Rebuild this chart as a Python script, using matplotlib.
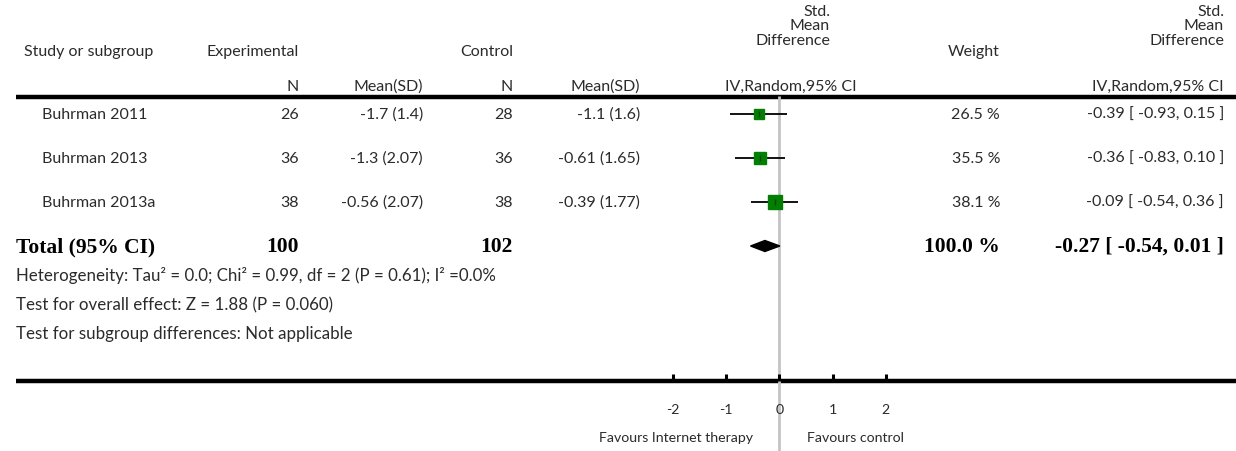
import matplotlib
matplotlib.use("Agg")
import matplotlib.pyplot as plt
from matplotlib.patches import Polygon

# ---- data ----
studies = ["Buhrman 2011", "Buhrman 2013", "Buhrman 2013a"]
exp_n = [26, 36, 38]
exp_meansd = ["-1.7 (1.4)", "-1.3 (2.07)", "-0.56 (2.07)"]
ctl_n = [28, 36, 38]
ctl_meansd = ["-1.1 (1.6)", "-0.61 (1.65)", "-0.39 (1.77)"]
smd = [-0.39, -0.36, -0.09]
ci_low = [-0.93, -0.83, -0.54]
ci_high = [0.15, 0.10, 0.36]
weights = [26.5, 35.5, 38.1]
total_n_exp = 100
total_n_ctl = 102
total_smd = -0.27
total_low = -0.54
total_high = 0.01
total_weight = 100.0
axis_ticks = [-2, -1, 0, 1, 2]
axis_ticklabels = ["-2", "-1", "0", "1", "2"]
favours_left = "Favours Internet therapy"
favours_right = "Favours control"
heterogeneity = "Heterogeneity: Tau\u00b2 = 0.0; Chi\u00b2 = 0.99, df = 2 (P = 0.61); I\u00b2 =0.0%"
overall_test = "Test for overall effect: Z = 1.88 (P = 0.060)"
subgroup_test = "Test for subgroup differences: Not applicable"

# ---- layout (pixels) ----
W, H = 1236, 452
SANS = "Lato"
SERIF = "Liberation Serif"
TXT = "#2b2b2b"
FS = 11.5
FS_NOTE = 12.2
FS_AXIS = 10.2
FS_BOLD = 15.5

fig = plt.figure(figsize=(W / 100, H / 100), dpi=100)
fig.patch.set_facecolor("white")

tab = fig.add_axes([0, 0, 1, 1])
tab.set_xlim(0, W)
tab.set_ylim(H, 0)
tab.axis("off")

# forest panel: x in effect units, y in pixel rows
px_per_unit = 53.25
zero_px = 779.3
fx0, fx1 = 560, 1010
forest = fig.add_axes([fx0 / W, 0, (fx1 - fx0) / W, 1])
forest.set_xlim((fx0 - zero_px) / px_per_unit, (fx1 - zero_px) / px_per_unit)
forest.set_ylim(H, 0)
forest.axis("off")
forest.patch.set_alpha(0)


def t(x, y, s, ha="left", size=FS, family=SANS, weight="normal", va="center"):
    tab.text(x, y, s, ha=ha, va=va, fontsize=size, family=family,
             fontweight=weight, color=TXT if weight == "normal" else "black")


# column x positions
X_STUDY_HDR = 24
X_LEFT = 16
X_STUDY = 42
X_EXPN = 299
X_EXPM = 423
X_CTLN = 513
X_CTLM = 640
X_MID = 830
X_WT = 1000
X_EFF = 1224

# header
t(X_STUDY_HDR, 52, "Study or subgroup")
t(X_EXPN, 52, "Experimental", ha="right")
t(X_CTLN, 52, "Control", ha="right")
t(X_WT, 52, "Weight", ha="right")
for xx in (X_MID, X_EFF):
    t(xx, 12, "Std.", ha="right")
    t(xx, 26.5, "Mean", ha="right")
    t(xx, 41, "Difference", ha="right")
t(X_EXPN, 87, "N", ha="right")
t(X_EXPM, 87, "Mean(SD)", ha="right")
t(X_CTLN, 87, "N", ha="right")
t(X_CTLM, 87, "Mean(SD)", ha="right")
t(X_MID + 27, 87, "IV,Random,95% CI", ha="right")
t(X_EFF, 87, "IV,Random,95% CI", ha="right")

# rules
tab.hlines([98], 16, W, colors="black", lw=3.2)
tab.hlines([382], 16, W, colors="black", lw=3.2)

# zero line
forest.vlines(0, 97, H, colors="#c4c4c4", lw=2, zorder=1)

row_y = [115, 159, 203]
for i, y in enumerate(row_y):
    t(X_STUDY, y, studies[i])
    t(X_EXPN, y, str(exp_n[i]), ha="right")
    t(X_EXPM, y, exp_meansd[i], ha="right")
    t(X_CTLN, y, str(ctl_n[i]), ha="right")
    t(X_CTLM, y, ctl_meansd[i], ha="right")
    t(X_WT, y, f"{weights[i]:.1f} %", ha="right")
    t(X_EFF, y, f"{smd[i]:.2f} [ {ci_low[i]:.2f}, {ci_high[i]:.2f} ]", ha="right")
    forest.hlines(y, ci_low[i], ci_high[i], colors="black", lw=1.3, zorder=2)
    forest.plot(smd[i], y, marker="s", ms=1.52 * weights[i] ** 0.5,
                color="#008000", mec="#008000", zorder=3)
    forest.plot(smd[i], y, marker="|", ms=4, mew=1, color="#1a3a1a", zorder=4)

# totals row
yt = 247
t(X_LEFT, yt, "Total (95% CI)", size=FS_BOLD, family=SERIF, weight="bold")
t(X_EXPN, yt, str(total_n_exp), ha="right", size=FS_BOLD, family=SERIF, weight="bold")
t(X_CTLN, yt, str(total_n_ctl), ha="right", size=FS_BOLD, family=SERIF, weight="bold")
t(X_WT, yt, f"{total_weight:.1f} %", ha="right", size=FS_BOLD, family=SERIF, weight="bold")
t(X_EFF, yt, f"{total_smd:.2f} [ {total_low:.2f}, {total_high:.2f} ]", ha="right",
  size=FS_BOLD, family=SERIF, weight="bold")
forest.add_patch(Polygon([(total_low, yt), (total_smd, yt - 5.5),
                          (total_high, yt), (total_smd, yt + 5.5)],
                         closed=True, color="black", zorder=3))

# footnotes
t(X_LEFT, 276, heterogeneity, size=FS_NOTE)
t(X_LEFT, 305, overall_test, size=FS_NOTE)
t(X_LEFT, 334, subgroup_test, size=FS_NOTE)

# axis ticks and labels
forest.vlines(axis_ticks, 375, 382, colors="black", lw=2.2)
for v, lab in zip(axis_ticks, axis_ticklabels):
    forest.text(v, 410, lab, ha="center", va="center", fontsize=FS_AXIS,
                family=SANS, color=TXT)
forest.text(-0.5, 438, favours_left, ha="right", va="center", fontsize=FS_AXIS,
            family=SANS, color=TXT)
forest.text(0.52, 438, favours_right, ha="left", va="center", fontsize=FS_AXIS,
            family=SANS, color=TXT)

fig.savefig("out.png", dpi=100, facecolor="white")
